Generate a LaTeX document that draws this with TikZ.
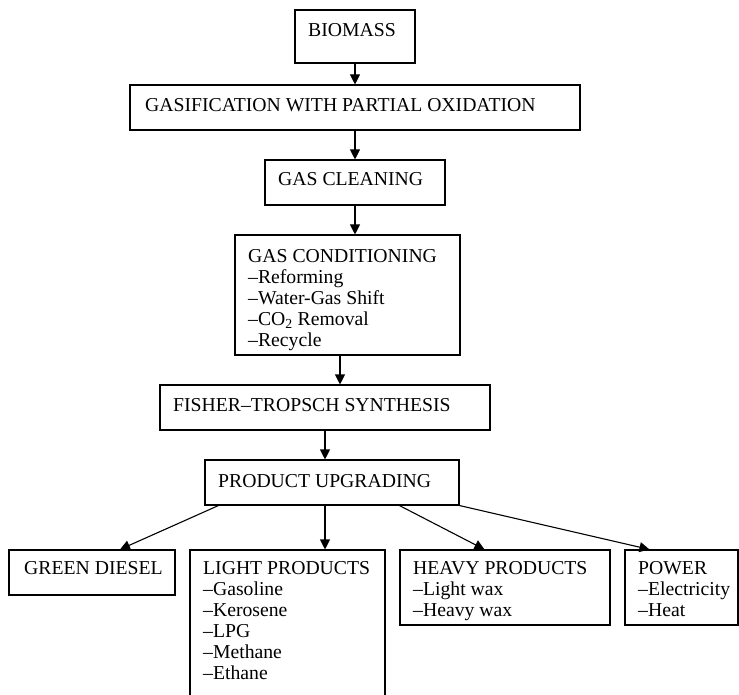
\documentclass[tikz,border=0pt]{standalone}
\usepackage{fontspec}
\setmainfont{Liberation Serif}
\usetikzlibrary{arrows.meta}
\begin{document}
\begin{tikzpicture}[x=1pt,y=1pt,
  box/.style={draw,line width=1.1pt,rectangle,inner sep=0pt},
  lbl/.style={anchor=base west,inner sep=0pt,font=\fontsize{19.7}{21}\selectfont},
  arr/.style={line width=1.1pt,-{Triangle[length=10pt,width=10pt]}}]
\useasboundingbox (0,0) rectangle (739,-695);
% boxes
\node[box,minimum width=120,minimum height=53] (bio) at (355,-36.5) {};
\node[box,minimum width=450,minimum height=45] (gas) at (355,-107.5) {};
\node[box,minimum width=180,minimum height=45] (clean) at (355,-182.5) {};
\node[box,minimum width=225,minimum height=120] (cond) at (347.5,-295) {};
\node[box,minimum width=330,minimum height=45] (ft) at (325,-407.5) {};
\node[box,minimum width=254,minimum height=45] (pu) at (332,-482.5) {};
\node[box,minimum width=166,minimum height=45] (gd) at (92,-572.5) {};
\node[box,minimum width=195,minimum height=160] (lp) at (287.5,-630) {};
\node[box,minimum width=210,minimum height=75] (hp) at (505,-587.5) {};
\node[box,minimum width=113,minimum height=75] (pw) at (681.5,-587.5) {};
% texts
\node[lbl] (bioT) at (308,-37) {BIOMASS};
\node[lbl] (gasT) at (145,-112) {GASIFICATION WITH PARTIAL OXIDATION};
\node[lbl] (cleanT) at (278,-186) {GAS CLEANING};
\node[lbl] (condT) at (248,-262) {\begin{tabular}[t]{@{}l@{}}GAS CONDITIONING\\–Reforming\\–Water-Gas Shift\\–CO\textsubscript{2} Removal\\–Recycle\end{tabular}};
\node[lbl] (ftT) at (173,-411) {FISHER–TROPSCH SYNTHESIS};
\node[lbl] (puT) at (218,-487) {PRODUCT UPGRADING};
\node[lbl] (gdT) at (24,-574) {GREEN DIESEL};
\node[lbl] (lpT) at (203,-574) {\begin{tabular}[t]{@{}l@{}}LIGHT PRODUCTS\\–Gasoline\\–Kerosene\\–LPG\\–Methane\\–Ethane\end{tabular}};
\node[lbl] (hpT) at (413,-574) {\begin{tabular}[t]{@{}l@{}}HEAVY PRODUCTS\\–Light wax\\–Heavy wax\end{tabular}};
\node[lbl] (pwT) at (638,-574) {\begin{tabular}[t]{@{}l@{}}POWER\\–Electricity\\–Heat\end{tabular}};
% arrows
\draw[arr] (bio.south) -- (gas.north);
\draw[arr] (gas.south) -- (clean.north);
\draw[arr] (clean.south) -- ([xshift=7.5pt]cond.north);
\draw[arr] ([xshift=-7.5pt]cond.south) -- ([xshift=15pt]ft.north);
\draw[arr] (ft.south) -- ([xshift=-7pt]pu.north);
\draw[arr] ([xshift=14pt]pu.south west) -- ([xshift=28pt]gd.north);
\draw[arr] ([xshift=-7pt]pu.south) -- ([xshift=37.5pt]lp.north);
\draw[arr] ([xshift=195pt]pu.south west) -- ([xshift=85pt]hp.north west);
\draw[arr] (pu.south east) -- ([xshift=25pt]pw.north west);
\end{tikzpicture}
\end{document}
